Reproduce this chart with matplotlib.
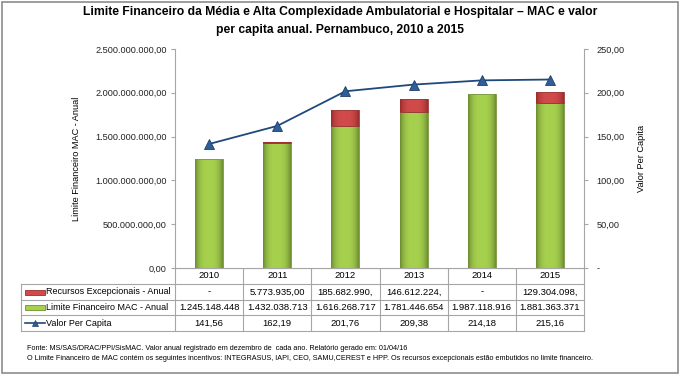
import matplotlib
matplotlib.use("Agg")
import matplotlib.pyplot as plt
import numpy as np
from matplotlib.patches import Rectangle

plt.rcParams["font.family"] = ["Liberation Sans", "DejaVu Sans"]

# data
anos = ["2010", "2011", "2012", "2013", "2014", "2015"]
recursos = [0, 5773935, 185682990, 146612224, 0, 129304098]
limite = [1245148448, 1432038713, 1616268717, 1781446654, 1987118916, 1881363371]
per_capita = [141.56, 162.19, 201.76, 209.38, 214.18, 215.16]
recursos_txt = ["-", "5.773.935,00", "185.682.990,", "146.612.224,", "-", "129.304.098,"]
limite_txt = ["1.245.148.448", "1.432.038.713", "1.616.268.717", "1.781.446.654",
              "1.987.118.916", "1.881.363.371"]
per_capita_txt = ["141,56", "162,19", "201,76", "209,38", "214,18", "215,16"]
left_ticks = ["0,00", "500.000.000,00", "1.000.000.000,00", "1.500.000.000,00",
              "2.000.000.000,00", "2.500.000.000,00"]
right_ticks = ["-", "50,00", "100,00", "150,00", "200,00", "250,00"]

titulo = ("Limite Financeiro da Média e Alta Complexidade Ambulatorial e Hospitalar \u2013 MAC e valor\n"
          "per capita anual. Pernambuco, 2010 a 2015")
fonte1 = "Fonte: MS/SAS/DRAC/PPI/SisMAC. Valor anual registrado em dezembro de  cada ano. Relatório gerado em: 01/04/16"
fonte2 = ("O Limite Financeiro de MAC contém os seguintes incentivos: INTEGRASUS, IAPI, CEO, SAMU,CEREST e HPP. "
          "Os recursos excepcionais estão embutidos no limite financeiro.")

W, H = 680, 376
# (centre, edge, top rim) colours
GREEN = ("#A6D14E", "#6F8F32", "#DDF0A0")
RED = ("#D24B4B", "#9A2E2E", "#E88A8A")
BLUE = "#1F497D"
GRID = "#A6A6A6"

fig = plt.figure(figsize=(W / 100, H / 100), dpi=100)

# background axes in pixel coords for border, table and notes
bg = fig.add_axes([0, 0, 1, 1])
bg.set_xlim(0, W)
bg.set_ylim(H, 0)
bg.axis("off")
bg.add_patch(Rectangle((1.5, 1.5), 676, 371, fill=False, edgecolor="#8C8C8C", lw=1.2))

x0, x1, ytop, ybot = 175, 584, 49, 268
ax = fig.add_axes([x0 / W, 1 - ybot / H, (x1 - x0) / W, (ybot - ytop) / H])
x = np.arange(len(anos))
bw = 0.41


def grad_bar(ax, xc, bottom, height, cols):
    if height <= 0:
        return
    centre, edge, top = [np.array(matplotlib.colors.to_rgb(c)) for c in cols]
    rect = Rectangle((xc - bw / 2, bottom), bw, height, facecolor="none",
                     edgecolor=edge, lw=0.6, zorder=4)
    ax.add_patch(rect)
    t = np.linspace(-1, 1, 40)
    w = np.clip(np.abs(t) ** 3, 0, 1)[:, None]
    img = (centre * (1 - w) + edge * w)[None, :, :]
    im = ax.imshow(img, extent=(xc - bw / 2, xc + bw / 2, bottom, bottom + height),
                   aspect="auto", zorder=2)
    im.set_clip_path(rect)
    # light top rim
    rim = min(0.012 * 2.5e9 * 0.3, height * 0.5)
    ax.add_patch(Rectangle((xc - bw / 2 + 0.02, bottom + height - rim), bw - 0.04, rim,
                           facecolor=top, edgecolor="none", zorder=3))


for i in range(len(anos)):
    grad_bar(ax, x[i], 0, limite[i], GREEN)
    grad_bar(ax, x[i], limite[i], recursos[i], RED)

ax.set_xlim(-0.5, len(anos) - 0.5)
ax.set_ylim(0, 2.5e9)
ax.set_yticks(np.linspace(0, 2.5e9, 6))
ax.set_yticklabels(left_ticks)
ax.set_xticks([])
for s in ["top", "right"]:
    ax.spines[s].set_visible(False)
for s in ["left", "bottom"]:
    ax.spines[s].set_color(GRID)
ax.tick_params(axis="y", colors=GRID, labelcolor="#222222", labelsize=6.6, length=3, pad=3)
ax.set_ylabel("Limite Financeiro MAC - Anual", fontsize=6.6, labelpad=10)

ax2 = ax.twinx()
ax2.plot(x, per_capita, color=BLUE, lw=1.3, marker="^", ms=7,
         markerfacecolor="#2F5F98", markeredgecolor="#1F3F66", markeredgewidth=0.6, zorder=5)
ax2.set_ylim(0, 250)
ax2.set_yticks(np.linspace(0, 250, 6))
ax2.set_yticklabels(right_ticks)
for s in ["top", "left", "bottom"]:
    ax2.spines[s].set_visible(False)
ax2.spines["right"].set_color(GRID)
ax2.tick_params(axis="y", colors=GRID, labelcolor="#222222", labelsize=6.6, length=3, pad=6)
ax2.set_ylabel("Valor Per Capita", fontsize=6.6, labelpad=9)

# title
fig.text(340 / W, 1 - 21 / H, titulo, ha="center", va="center", fontsize=8.7,
         fontweight="bold", linespacing=1.6)

# data table
tl, rows = 21, [268, 284, 300, 315, 331]
col_w = (x1 - x0) / len(anos)
kw = dict(color=GRID, lw=0.8)
bg.plot([x0, x1], [rows[0], rows[0]], **kw)
for r in rows[1:]:
    bg.plot([tl, x1], [r, r], **kw)
bg.plot([tl, tl], [rows[1], rows[-1]], **kw)
for j in range(len(anos) + 1):
    xx = x0 + j * col_w
    bg.plot([xx, xx], [rows[0], rows[-1]], **kw)

fs = 6.8
for j in range(len(anos)):
    xc = x0 + (j + 0.5) * col_w
    bg.text(xc, (rows[0] + rows[1]) / 2, anos[j], ha="center", va="center", fontsize=fs)
    bg.text(xc, (rows[1] + rows[2]) / 2, recursos_txt[j], ha="center", va="center", fontsize=fs)
    bg.text(xc, (rows[2] + rows[3]) / 2, limite_txt[j], ha="center", va="center", fontsize=fs)
    bg.text(xc, (rows[3] + rows[4]) / 2, per_capita_txt[j], ha="center", va="center", fontsize=fs)

labels = ["Recursos Excepcionais - Anual", "Limite Financeiro MAC - Anual", "Valor Per Capita"]
for k, lab in enumerate(labels):
    yc = (rows[k + 1] + rows[k + 2]) / 2
    if k < 2:
        cols = RED if k == 0 else GREEN
        bg.add_patch(Rectangle((25, yc - 2.5), 20, 5, facecolor=cols[0],
                               edgecolor=cols[1], lw=0.6))
    else:
        bg.plot([25, 45], [yc, yc], color=BLUE, lw=1.2)
        bg.plot([35], [yc], marker="^", ms=5, color="#2F5F98", markeredgecolor="#1F3F66",
                markeredgewidth=0.5)
    bg.text(46, yc, lab, ha="left", va="center", fontsize=6.5)

# notes
bg.text(27, 348, fonte1, ha="left", va="center", fontsize=5.2)
bg.text(27, 358, fonte2, ha="left", va="center", fontsize=5.2)

fig.savefig("out.png", dpi=100)
